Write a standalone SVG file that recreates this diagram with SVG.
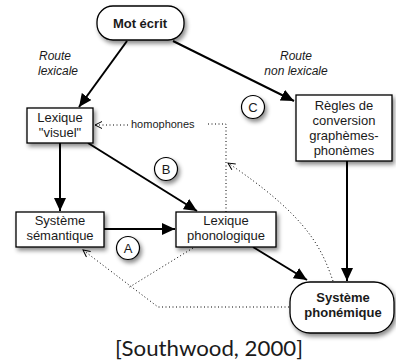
<svg xmlns="http://www.w3.org/2000/svg" width="396" height="363" viewBox="0 0 396 363">
<defs>
<filter id="sh" x="-20%" y="-20%" width="150%" height="160%">
<feDropShadow dx="2" dy="3" stdDeviation="2" flood-color="#000" flood-opacity="0.45"/>
</filter>
<marker id="ah" markerUnits="userSpaceOnUse" markerWidth="14" markerHeight="12" refX="13" refY="6" orient="auto">
<path d="M0,0 L13,6 L0,12 z" fill="#000"/>
</marker>
<marker id="oh" markerUnits="userSpaceOnUse" markerWidth="10" markerHeight="10" refX="8" refY="4" orient="auto">
<path d="M1,0.5 L8,4 L1,7.5" fill="none" stroke="#000" stroke-width="1"/>
</marker>
<style>
.box{fill:#fff;stroke:#000;stroke-width:1.3;filter:url(#sh)}
.t{font-family:"Liberation Sans",Arial,sans-serif;font-size:13px;fill:#1a1a1a;text-anchor:middle}
.b{font-weight:bold}
.it{font-family:"Liberation Sans",Arial,sans-serif;font-size:12px;font-style:italic;fill:#1a1a1a;text-anchor:middle}
.sm{font-family:"Liberation Sans",Arial,sans-serif;font-size:11px;fill:#1a1a1a}
.s{fill:none;stroke:#000;stroke-width:2;marker-end:url(#ah)}
.d{fill:none;stroke:#000;stroke-width:1;stroke-dasharray:1 2.5}
.circ{fill:#fff;stroke:#000;stroke-width:1.2;filter:url(#sh)}
</style>
</defs>
<g id="connectors">
<path class="s" d="M127,41 Q106,70 79,107"/>
<path class="s" d="M173,41 L294,101"/>
<path class="s" d="M60,143 L60,211"/>
<path class="s" d="M88,143 L197,211"/>
<path class="s" d="M104,229 L175,229"/>
<path class="s" d="M253,247 L307,280"/>
<path class="s" d="M347,161 L347,281"/>
<path class="d" d="M128,125 L95,125" marker-end="url(#oh)"/>
<path class="d" d="M208,124 L226,124 L226,212"/>
<path class="d" d="M333,281 C322,250 310,218 228,163" marker-end="url(#oh)"/>
<path class="d" d="M289,307 L158,307 L83,250" marker-end="url(#oh)"/>
<path class="d" d="M193,248 L128,288"/>
</g>
<g id="mot-ecrit">
<rect class="box" x="97" y="6" width="87" height="34" rx="16"/>
<text class="t b" x="140" y="28" font-size="13.5">Mot écrit</text>
</g>
<g id="lexique-visuel">
<rect class="box" x="27" y="108" width="66" height="35"/>
<text class="t" x="60" y="122">Lexique</text>
<text class="t" x="60" y="137">"visuel"</text>
</g>
<g id="regles">
<rect class="box" x="296" y="95" width="96" height="66"/>
<text class="t" x="344" y="110">Règles de</text>
<text class="t" x="344" y="125">conversion</text>
<text class="t" x="344" y="140">graphèmes-</text>
<text class="t" x="344" y="155">phonèmes</text>
</g>
<g id="systeme-semantique">
<rect class="box" x="16" y="212" width="88" height="35"/>
<text class="t" x="60" y="225">Système</text>
<text class="t" x="60" y="240">sémantique</text>
</g>
<g id="lexique-phonologique">
<rect class="box" x="176" y="212" width="100" height="35"/>
<text class="t" x="226" y="225">Lexique</text>
<text class="t" x="226" y="240">phonologique</text>
</g>
<g id="systeme-phonemique">
<rect class="box" x="290" y="282" width="104" height="51" rx="20"/>
<text class="t b" x="343" y="302" font-size="12.5">Système</text>
<text class="t b" x="343" y="317" font-size="12.5">phonémique</text>
</g>
<g id="label-A">
<circle class="circ" cx="128" cy="248" r="11.5"/>
<text class="t" x="128" y="252.5" font-size="12.5">A</text>
</g>
<g id="label-B">
<circle class="circ" cx="166" cy="169" r="11.5"/>
<text class="t" x="166" y="173.5" font-size="12.5">B</text>
</g>
<g id="label-C">
<circle class="circ" cx="253" cy="107" r="11.5"/>
<text class="t" x="253" y="111.5" font-size="12.5">C</text>
</g>
<g id="labels">
<text class="it" x="55" y="60">Route</text>
<text class="it" x="58" y="75">lexicale</text>
<text class="it" x="296" y="60">Route</text>
<text class="it" x="296" y="75">non lexicale</text>
<text class="sm" x="131" y="128">homophones</text>
<text x="209" y="356" font-family="Lato,'Open Sans',sans-serif" font-size="21" fill="#1a1a1a" text-anchor="middle" textLength="188" lengthAdjust="spacingAndGlyphs">[Southwood, 2000]</text>
</g>
</svg>
